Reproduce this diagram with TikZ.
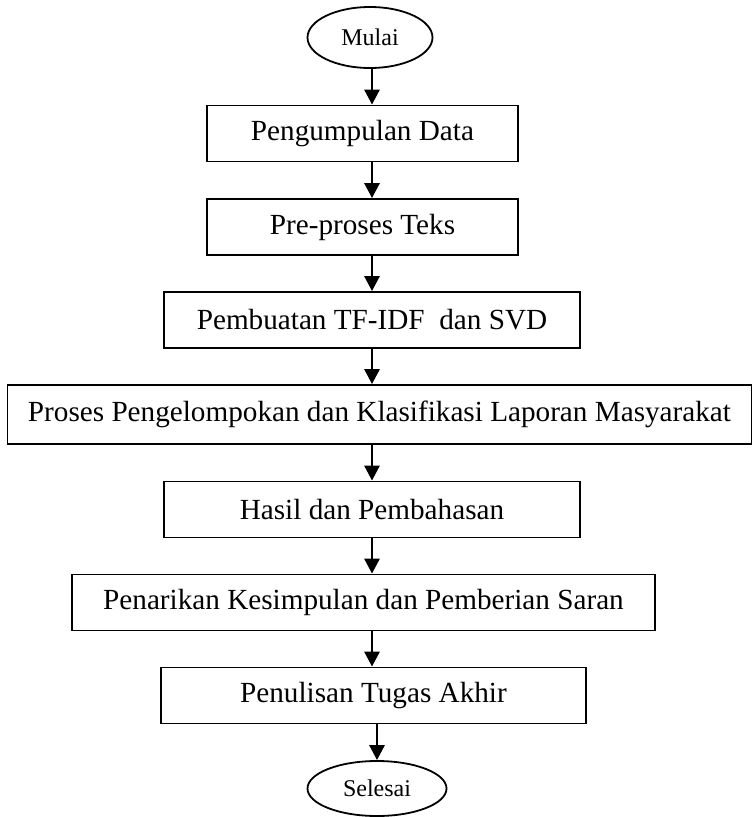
\documentclass[tikz,border=0pt]{standalone}
\usepackage{fontspec}
\setmainfont{Liberation Serif}
\usetikzlibrary{shapes}
\usetikzlibrary{arrows.meta}

\begin{document}
\begin{tikzpicture}[x=1pt,y=-1pt]
		\tikzstyle{box}=[draw,line width=1.8pt,shape=rectangle,inner sep=0pt,minimum height=56pt,font=\fontsize{29.2}{34}\selectfont];
		\tikzstyle{term}=[draw,line width=1.8pt,shape=ellipse,inner sep=0pt,font=\fontsize{24}{28}\selectfont];
		\tikzstyle{arr}=[line width=2.8pt,-{Triangle[length=15pt,width=15pt]}];
		\useasboundingbox (0,0) rectangle (753,817);
		\coordinate (ax) at (372,0);
		\path (370,37.5)   node[term,minimum width=125pt,minimum height=61pt] (t0) {Mulai};
		\path (362.5,133.5) node[box,minimum width=311pt] (b1) {Pengumpulan Data};
		\path (362.5,227)   node[box,minimum width=311pt] (b2) {Pre-proses Teks};
		\path (372,320)     node[box,minimum width=416pt] (b3) {Pembuatan TF-IDF\ \ dan SVD};
		\path (379.5,414.5) node[box,minimum width=744pt,minimum height=59pt] (b4) {Proses Pengelompokan dan Klasifikasi Laporan Masyarakat};
		\path (372,509.5)   node[box,minimum width=416pt] (b5) {Hasil dan Pembahasan};
		\path (363.5,602.5) node[box,minimum width=583pt] (b6) {Penarikan Kesimpulan dan Pemberian Saran};
		\path (373.5,695.5) node[box,minimum width=425pt] (b7) {Penulisan Tugas Akhir};
		\path (377,788.5)   node[term,minimum width=139pt,minimum height=55pt] (t8) {Selesai};
		\draw[arr] (t0.south -| ax) -- (b1.north -| ax);
		\draw[arr] (b1.south -| ax) -- (b2.north -| ax);
		\draw[arr] (b2.south -| ax) -- (b3.north -| ax);
		\draw[arr] (b3.south -| ax) -- (b4.north -| ax);
		\draw[arr] (b4.south -| ax) -- (b5.north -| ax);
		\draw[arr] (b5.south -| ax) -- (b6.north -| ax);
		\draw[arr] (b6.south -| ax) -- (b7.north -| ax);
		\draw[arr] (b7.south -| t8) -- (t8.north);
		\end{tikzpicture}
\end{document}
